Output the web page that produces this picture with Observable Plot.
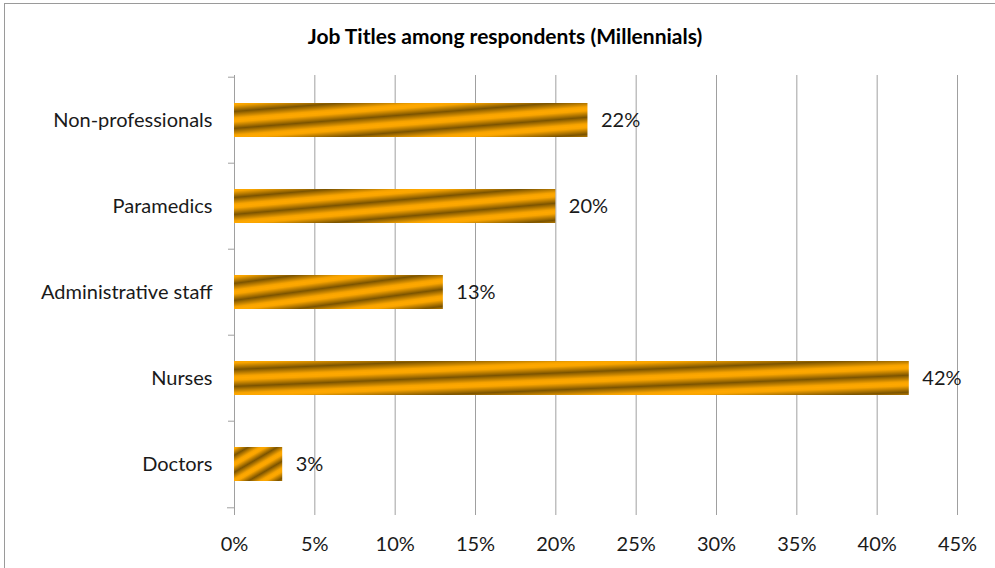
<!DOCTYPE html>
<html><head><meta charset="utf-8">
<script src="https://cdn.jsdelivr.net/npm/d3@7"></script>
<script src="https://cdn.jsdelivr.net/npm/@observablehq/plot@0.6"></script>
<style>
html,body{margin:0;padding:0;background:#fff;overflow:hidden;width:995px;height:568px}
#frame{position:absolute;left:4px;top:3px;width:1200px;height:800px;border:1px solid #9a9a9a;box-sizing:border-box}
#title{position:absolute;left:0;top:25px;width:1010px;height:22px;line-height:22px;text-align:center;font-family:Lato,"Open Sans",sans-serif;font-weight:bold;font-size:21px;color:#000}
#chart{position:absolute;left:0;top:62px}
</style></head>
<body>
<div id="frame"></div>
<svg width="0" height="0" style="position:absolute">
<defs>
<linearGradient id="stripe" gradientUnits="objectBoundingBox" x1="0" y1="0" x2="0.245" y2="0.296" spreadMethod="repeat">
<stop offset="0" stop-color="#FFA800"/>
<stop offset="0.12" stop-color="#F8A400"/>
<stop offset="0.5" stop-color="#7C5400"/>
<stop offset="0.88" stop-color="#F5A200"/>
<stop offset="1" stop-color="#FFA800"/>
</linearGradient>
</defs>
</svg>
<div id="title">Job Titles among respondents (Millennials)</div>
<div id="chart"></div>
<script>
const categories = ["Non-professionals", "Paramedics", "Administrative staff", "Nurses", "Doctors"];
const values = [22, 20, 13, 42, 3];
const xTicks = [0, 5, 10, 15, 20, 25, 30, 35, 40, 45];

const data = categories.map((c, i) => ({category: c, value: values[i]}));
const band = (508 - 75) / categories.length;

const plot = Plot.plot({
  width: 995,
  height: 506,
  marginLeft: 234,
  marginRight: 38,
  marginTop: 13,
  marginBottom: 60,
  x: {domain: [0, 45], label: null},
  y: {domain: categories, padding: 0, label: null},
  style: {fontFamily: "Lato, 'Open Sans', sans-serif", fontSize: "20px", color: "#1a1a1a", background: "transparent", overflow: "visible"},
  marks: [
    Plot.gridX(xTicks, {stroke: "#a0a0a0", strokeOpacity: 1}),
    Plot.barX(data, {x: "value", y: "category", fill: "url(#stripe)", insetTop: 26, insetBottom: 26}),
    Plot.text(data, {x: "value", y: "category", text: d => d.value + "%", dx: 13, textAnchor: "start", fill: "#1a1a1a", fontSize: 20}),
    Plot.axisX(xTicks, {tickSize: 7, tickPadding: 21, tickFormat: d => d + "%", stroke: "#a0a0a0", fill: "#1a1a1a", line: true, fontSize: 20, label: null}),
    Plot.axisY({tickSize: 0, tickPadding: 22, fill: "#1a1a1a", stroke: "#a0a0a0", line: true, fontSize: 20, label: null}),
    Plot.axisY(categories, {tickSize: 6, text: null, dy: -band / 2, stroke: "#a0a0a0", label: null}),
    Plot.axisY([categories[categories.length - 1]], {tickSize: 7, text: null, dy: band / 2, stroke: "#a0a0a0", label: null})
  ]
});
document.getElementById("chart").appendChild(plot);
</script>
</body></html>
